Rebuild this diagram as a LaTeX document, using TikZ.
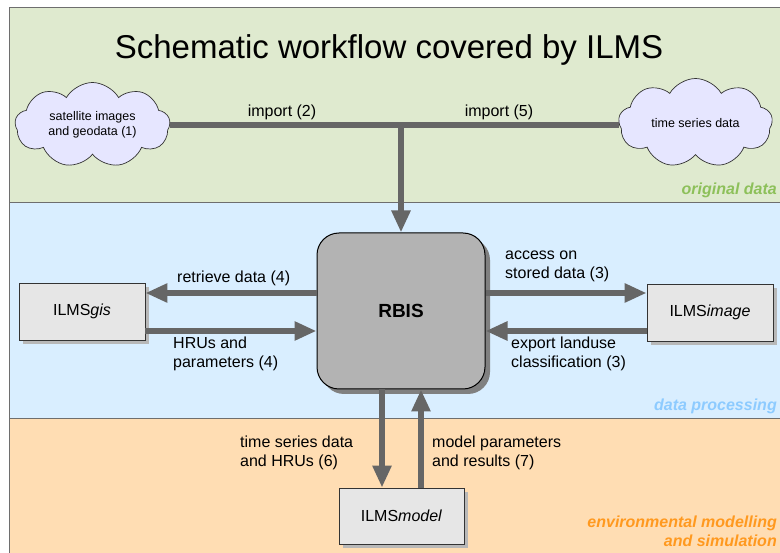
\documentclass[tikz,border=0pt]{standalone}
\usepackage{fontspec}
\setmainfont{Liberation Sans}
\usetikzlibrary{shapes.symbols,shadows,arrows.meta,calc}
\definecolor{bandgreen}{HTML}{DFEACF}
\definecolor{bandblue}{HTML}{D9EEFF}
\definecolor{bandorange}{HTML}{FFDDB3}
\definecolor{linegray}{HTML}{666666}
\definecolor{boxgray}{HTML}{E6E6E6}
\definecolor{rbisgray}{HTML}{B3B3B3}
\definecolor{cloudfill}{HTML}{E6E6FF}
\definecolor{lblgreen}{HTML}{8DC05A}
\definecolor{lblblue}{HTML}{8DCBFF}
\definecolor{lblorange}{HTML}{FF991F}
\definecolor{bandborder}{HTML}{6E6E6E}
\begin{document}
\begin{tikzpicture}[x=1pt,y=-1pt,
  font=\fontsize{16}{19}\selectfont,
  band/.style={draw=bandborder, line width=1pt},
  appbox/.style={draw=black!80, line width=0.8pt, fill=boxgray, inner sep=0pt,
    minimum width=126pt, minimum height=57pt,
    drop shadow={shadow xshift=4pt, shadow yshift=-4pt, fill=black!28, opacity=1}},
  rbisbox/.style={draw=black, line width=1pt, fill=rbisgray, rounded corners=22pt,
    minimum width=168pt, minimum height=156pt, inner sep=0pt,
    font=\fontsize{19}{22}\selectfont\bfseries,
    drop shadow={shadow xshift=5pt, shadow yshift=-5pt, fill=black!50, opacity=1}},
  cloudnode/.style={cloud, cloud puffs=9, cloud puff arc=120, cloud ignores aspect,
    draw=black!80, line width=0.7pt,
    fill=cloudfill, inner sep=0pt, align=center, font=\fontsize{12.5}{15.5}\selectfont},
  conn/.style={draw=linegray, line width=6pt},
  arr/.style={conn, -{Triangle[length=22pt, width=18pt]}},
  lbl/.style={inner sep=0pt, align=left, anchor=base west},
  bandlbl/.style={inner sep=0pt, anchor=base east, align=right, font=\fontsize{16}{19.5}\selectfont\bfseries\itshape}
]
\useasboundingbox (0,0) rectangle (780,553);
\fill[white] (0,0) rectangle (780,553);
% bands
\path[band, fill=bandgreen] (9,8) rectangle (790,203);
\path[band, fill=bandblue] (9,203) rectangle (790,419);
\path[band, fill=bandorange] (9,419) rectangle (790,560);

\node[inner sep=0pt, anchor=base, font=\fontsize{33}{40}\selectfont] (title) at (389,59) {Schematic workflow covered by ILMS};

\node[cloudnode, minimum width=155pt, minimum height=85pt] (c1) at (92.5,125) {satellite images\\and geodata (1)};
\node[cloudnode, minimum width=154pt, minimum height=89pt] (c2) at (695.5,123) {time series data};

\node[rbisbox] (rbis) at (401,311) {RBIS};
\node[appbox] (gis) at (82,311.5) {ILMS\textit{gis}};
\node[appbox] (img) at (710,312.5) {ILMS\textit{image}};
\node[appbox, minimum width=125pt, minimum height=56pt] (model) at (401.5,516) {ILMS\textit{model}};

% connectors
\draw[conn] (c1.east) -- (c1.east -| c2.west);
\draw[arr] (c1.east -| rbis.north) -- (rbis.north);
\draw[arr] ([yshift=18pt]rbis.west) -- ([yshift=18pt]rbis.west -| gis.east);
\draw[arr] ([yshift=-20pt]rbis.west -| gis.east) -- ([yshift=-20pt]rbis.west);
\draw[arr] ([yshift=18pt]rbis.east) -- ([yshift=18pt]rbis.east -| img.west);
\draw[arr] ([yshift=-20pt]rbis.east -| img.west) -- ([yshift=-20pt]rbis.east);
\draw[arr] ([xshift=-19pt]rbis.south) -- ([xshift=-19pt]rbis.south |- model.north);
\draw[arr] ([xshift=20pt]rbis.south |- model.north) -- ([xshift=20pt]rbis.south);

% labels
\node[inner sep=0pt, anchor=base] (l2) at (282,117) {import (2)};
\node[inner sep=0pt, anchor=base] (l5) at (499,117) {import (5)};
\node[lbl] (l4a) at (177,283) {retrieve data (4)};
\node[lbl] (l4b) at (173,368) {HRUs and\\parameters (4)};
\node[lbl] (l3a) at (505,279) {access on\\stored data (3)};
\node[lbl] (l3b) at (511,368) {export landuse\\classification (3)};
\node[lbl] (l6) at (240,467) {time series data\\and HRUs (6)};
\node[lbl] (l7) at (432,467) {model parameters\\and results (7)};

\node[bandlbl, text=lblgreen] (b1) at (777,195) {original data};
\node[bandlbl, text=lblblue] (b2) at (777,411) {data processing};
\node[bandlbl, text=lblorange] (b3) at (777,547) {environmental modelling\\and simulation};
\end{tikzpicture}
\end{document}
